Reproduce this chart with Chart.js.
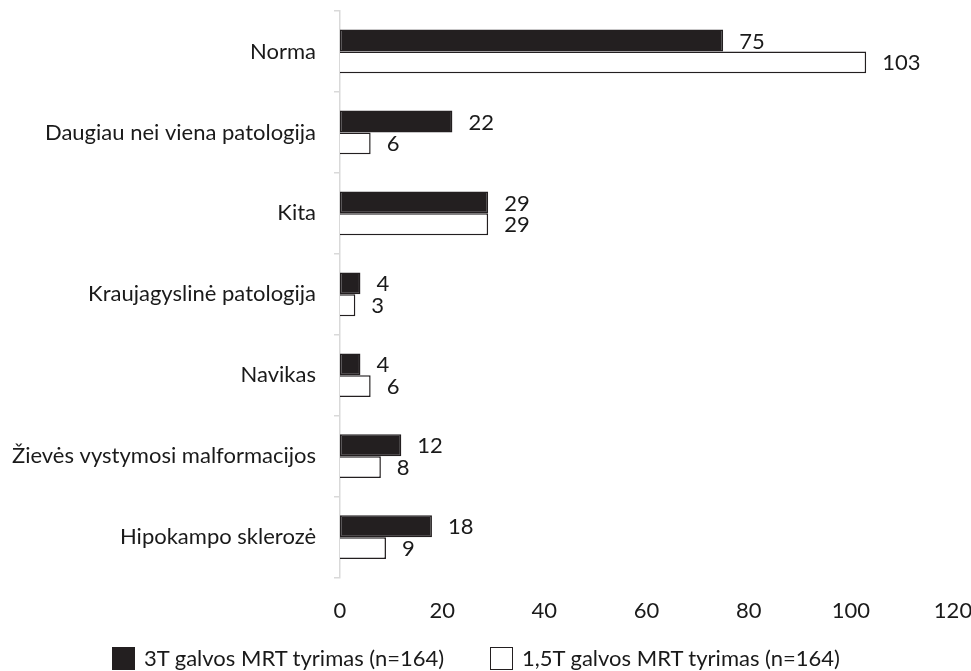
<!DOCTYPE html>
<html>
<head>
<meta charset="utf-8">
<script src="https://cdn.jsdelivr.net/npm/chart.js@4"></script>
<style>
  html, body { margin: 0; padding: 0; background: #ffffff; }
  #wrap { position: relative; width: 971px; height: 671px; overflow: hidden; }
  #legend { position: absolute; top: 645px; left: 0; width: 971px; height: 26px; font-family: Lato, "Open Sans", sans-serif; font-size: 22px; line-height: 26px; color: #1a1a1a; }
  .item { position: absolute; top: 0; height: 26px; display: flex; align-items: center; white-space: nowrap; }
  .box { width: 23px; height: 23px; box-sizing: border-box; border: 1.5px solid #231f20; margin-right: 9px; }
</style>
</head>
<body>
<div id="wrap">
  <canvas id="c" width="971" height="671"></canvas>
  <div id="legend"></div>
</div>
<script>
const categories = [
  "Norma",
  "Daugiau nei viena patologija",
  "Kita",
  "Kraujagyslinė patologija",
  "Navikas",
  "Žievės vystymosi malformacijos",
  "Hipokampo sklerozė"
];
const series3T = [75, 22, 29, 4, 4, 12, 18];
const series15T = [103, 6, 29, 3, 6, 8, 9];
const seriesNames = ["3T galvos MRT tyrimas (n=164)", "1,5T galvos MRT tyrimas (n=164)"];
const xTicks = [0, 20, 40, 60, 80, 100, 120];

const FONT = 'Lato, "Open Sans", sans-serif';
const TEXT = '#1a1a1a';
const DARK = '#231f20';

const valueLabels = {
  id: 'valueLabels',
  afterDatasetsDraw(chart) {
    const ctx = chart.ctx;
    ctx.save();
    ctx.font = '22px ' + FONT;
    ctx.fillStyle = TEXT;
    ctx.textAlign = 'left';
    ctx.textBaseline = 'middle';
    chart.data.datasets.forEach((ds, di) => {
      const meta = chart.getDatasetMeta(di);
      meta.data.forEach((el, i) => {
        ctx.fillText(String(ds.data[i]), el.x + 16, el.y + 1);
      });
    });
    ctx.restore();
  }
};

new Chart(document.getElementById('c'), {
  type: 'bar',
  data: {
    labels: categories,
    datasets: [
      {
        label: seriesNames[0],
        data: series3T,
        backgroundColor: DARK,
        borderColor: DARK,
        borderWidth: 1.5,
        borderSkipped: false,
        categoryPercentage: 0.54,
        barPercentage: 1.0
      },
      {
        label: seriesNames[1],
        data: series15T,
        backgroundColor: '#ffffff',
        borderColor: DARK,
        borderWidth: 1.5,
        borderSkipped: 'start',
        categoryPercentage: 0.54,
        barPercentage: 1.0
      }
    ]
  },
  options: {
    indexAxis: 'y',
    responsive: false,
    animation: false,
    events: [],
    layout: { padding: { top: 11, right: 18, bottom: 27, left: 0 } },
    plugins: {
      legend: { display: false },
      tooltip: { enabled: false }
    },
    scales: {
      x: {
        min: 0,
        max: 120,
        afterBuildTicks(scale) { scale.ticks = xTicks.map(v => ({ value: v })); },
        afterFit(scale) { scale.paddingLeft = 0; scale.paddingRight = 0; },
        grid: { display: false, drawTicks: false },
        border: { display: false },
        ticks: { font: { family: FONT, size: 22 }, color: TEXT, padding: 20, maxRotation: 0 }
      },
      y: {
        afterFit(scale) { scale.width = 340; scale.paddingTop = 0; scale.paddingBottom = 0; },
        grid: { offset: true, drawOnChartArea: false, drawTicks: true, tickLength: 6, color: '#d9d9d9', lineWidth: 1.5 },
        border: { display: true, color: '#d9d9d9', width: 1.5 },
        ticks: { font: { family: FONT, size: 22 }, color: TEXT, padding: 18 }
      }
    }
  },
  plugins: [valueLabels]
});

// HTML legend built from the series names
const legend = document.getElementById('legend');
const legendPos = [112, 490];
const fills = [DARK, '#ffffff'];
seriesNames.forEach((name, i) => {
  const it = document.createElement('div');
  it.className = 'item';
  it.style.left = legendPos[i] + 'px';
  const b = document.createElement('div');
  b.className = 'box';
  b.style.background = fills[i];
  const t = document.createElement('span');
  t.textContent = name;
  it.appendChild(b); it.appendChild(t);
  legend.appendChild(it);
});
</script>
</body>
</html>
